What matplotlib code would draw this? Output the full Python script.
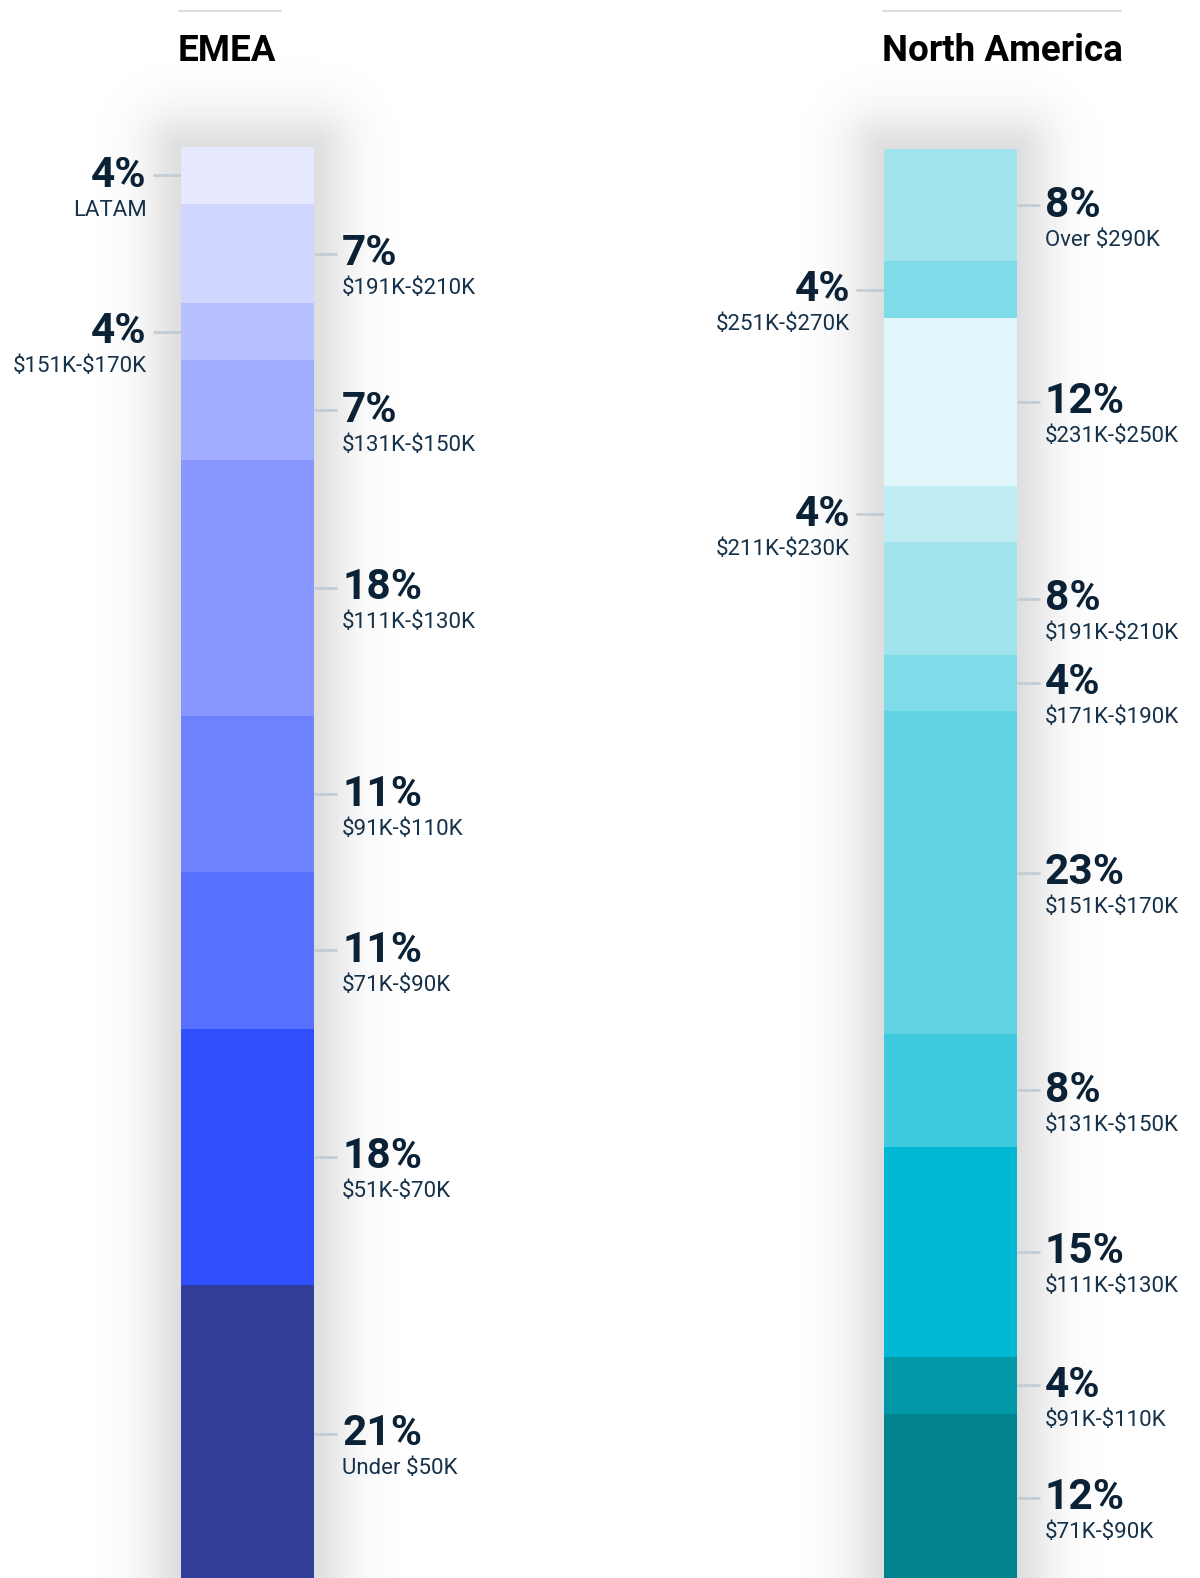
import numpy as np
import matplotlib.pyplot as plt

plt.rcParams['text.parse_math'] = False

# EMEA stack, top to bottom
emea_pct = [4, 7, 4, 7, 18, 11, 11, 18, 21]
emea_labels = ["LATAM", "$191K-$210K", "$151K-$170K", "$131K-$150K", "$111K-$130K",
               "$91K-$110K", "$71K-$90K", "$51K-$70K", "Under $50K"]
emea_colors = ["#E6E8FE", "#D0D6FF", "#B8C1FF", "#A0ACFF", "#8897FF",
               "#6E82FF", "#5870FF", "#3050FF", "#303E9A"]
emea_side = ["L", "R", "L", "R", "R", "R", "R", "R", "R"]

# North America stack, top to bottom
na_pct = [8, 4, 12, 4, 8, 4, 23, 8, 15, 4, 12]
na_labels = ["Over $290K", "$251K-$270K", "$231K-$250K", "$211K-$230K", "$191K-$210K",
             "$171K-$190K", "$151K-$170K", "$131K-$150K", "$111K-$130K", "$91K-$110K",
             "$71K-$90K"]
na_colors = ["#A2E4EE", "#80DBE9", "#E0F6FA", "#BFEDF3", "#A2E4EE", "#80DBE9",
             "#62D3E3", "#40CADF", "#00B8D4", "#0097A7", "#00838F"]
na_side = ["R", "L", "R", "L", "R", "R", "R", "R", "R", "R", "R"]

W, H = 1200, 1578
FONT = "Roboto"
PCT_COLOR = "#0B2236"
SUB_COLOR = "#16314A"
LINE_COLOR = "#C4CCD4"

fig = plt.figure(figsize=(W / 100, H / 100), dpi=100)
bg = fig.add_axes([0, 0, 1, 1])
bg.set_xlim(0, W)
bg.set_ylim(H, 0)
bg.axis("off")


def shadow(x0, x1, y0, y1):
    xs = np.arange(W) + 0.5
    ys = np.arange(H) + 0.5
    dx = np.maximum(np.maximum(x0 - xs, 0), xs - x1)[None, :]
    dy = np.maximum(np.maximum(y0 - ys, 0), ys - y1)[:, None]
    d = np.sqrt(dx ** 2 + dy ** 2)
    alpha = 0.13 * np.exp(-(d / 38.0) ** 1.5)
    img = np.zeros((H, W, 4))
    img[..., 3] = alpha
    bg.imshow(img, extent=(0, W, H, 0), interpolation="bilinear", zorder=0)


def title(x, text, line_end):
    bg.plot([x, line_end], [10.5, 10.5], color="#D4D4D4", lw=1.2)
    bg.text(x - 1, 51, text, fontsize=26.5, fontweight="bold", family=FONT,
            color="#000000", ha="left", va="center")


def stack(vals, labels, colors, sides, x_left, top_px, ppp):
    ax = fig.add_axes([0, 0, 1, 1], zorder=2)
    ax.patch.set_alpha(0)
    ax.set_xlim(0, W)
    ax.set_ylim((H - top_px) / ppp, -top_px / ppp)
    ax.axis("off")
    bw = 133
    xc = x_left + bw / 2
    vals = np.array(vals, dtype=float)
    bottoms = np.concatenate([[0], np.cumsum(vals)[:-1]])
    ax.bar(xc, vals, bottom=bottoms, width=bw, color=colors, linewidth=0, zorder=2)
    x_right = x_left + bw
    for v, b, lab, side in zip(vals, bottoms, labels, sides):
        mid = b + v / 2
        if side == "R":
            ax.plot([x_right, x_right + 23], [mid, mid], color=LINE_COLOR, lw=2,
                    solid_capstyle="butt", zorder=1)
            tx, ha = x_right + 28, "left"
        else:
            ax.plot([x_left - 28, x_left], [mid, mid], color=LINE_COLOR, lw=2,
                    solid_capstyle="butt", zorder=1)
            tx, ha = x_left - 34, "right"
        ax.annotate(f"{int(v)}%", (tx, mid), xytext=(0, 0), textcoords="offset pixels",
                    fontsize=30.5, fontweight="bold", family=FONT, color=PCT_COLOR,
                    ha=ha, va="center")
        ax.annotate(lab, (tx, mid), xytext=(0, -35), textcoords="offset pixels",
                    fontsize=16, family=FONT, color=SUB_COLOR, ha=ha, va="center")


shadow(181, 314, 147, H + 50)
shadow(884, 1017, 149, H + 50)
title(179, "EMEA", 281)
title(883, "North America", 1121)
stack(emea_pct, emea_labels, emea_colors, emea_side, 181, 147, 14.22)
stack(na_pct, na_labels, na_colors, na_side, 884, 149, 14.05)

fig.savefig("out.png", dpi=100)
